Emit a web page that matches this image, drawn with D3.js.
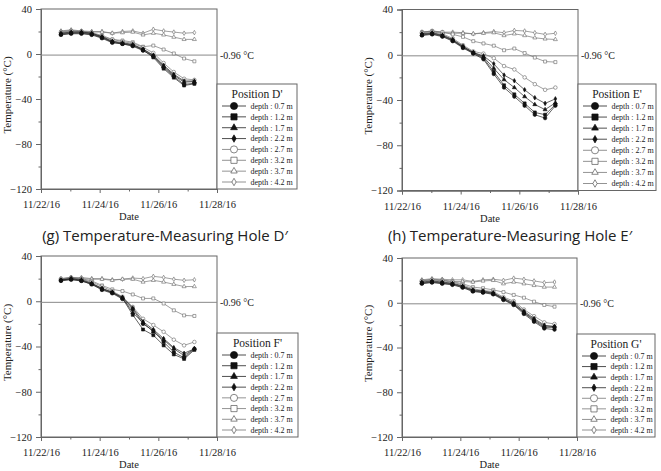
<!DOCTYPE html>
<html>
<head>
<meta charset="utf-8">
<script src="https://cdn.jsdelivr.net/npm/d3@7"></script>
<style>
	body { margin: 0; background: #fff; }
	svg text { font-family: "Liberation Serif", "Times New Roman", serif; fill: #222; }
	svg .title { font-family: "Open Sans", sans-serif; }
</style>
</head>
<body>
<svg id="chart" width="661" height="471"></svg>
<script>

// Measurement times (8 h apart, roughly)
let times = ["2016-11-22 16:20", "2016-11-23 00:40", "2016-11-23 09:05", "2016-11-23 17:30",
	"2016-11-24 01:55", "2016-11-24 10:20", "2016-11-24 18:40", "2016-11-25 03:05",
	"2016-11-25 11:30", "2016-11-25 19:55", "2016-11-26 04:20", "2016-11-26 12:40",
	"2016-11-26 21:05", "2016-11-27 05:30"];

let depths = ["0.7 m", "1.2 m", "1.7 m", "2.2 m", "2.7 m", "3.2 m", "3.7 m", "4.2 m"];

let xTickLabels = ["11/22/16", "11/24/16", "11/26/16", "11/28/16"];
let xMinorLabels = ["11/23/16", "11/25/16", "11/27/16"];
let yTicks = [40, 0, -40, -80, -120];
let yMinorTicks = [20, -20, -60, -100];
let freezingPoint = -0.96;

// temperatures, one row per depth (0.7 m ... 4.2 m)
let holeD = [
	[17, 18, 18, 17, 14, 10, 9, 7, 3, -2, -12, -20, -27, -26],
	[17.5, 18.5, 18.5, 17.5, 14.5, 10.5, 9, 7.5, 3.5, -3, -13, -21, -28, -26.5],
	[18, 19, 19, 18, 15, 11, 9.5, 8, 4, -1.5, -11, -19, -25, -24.5],
	[18.5, 19.5, 19.5, 18.5, 15.5, 11.5, 10, 8.5, 4.5, -1, -10, -18, -24, -24],
	[19.5, 20.5, 20, 19, 16.5, 13, 11, 9.5, 6, 1, -8, -16, -22, -23],
	[19, 20, 20, 18.5, 15.5, 13, 12, 10.5, 6.5, 7.5, 4, 0.5, -4, -6.5],
	[20, 21, 20, 19.5, 19.5, 18.5, 19, 19.5, 17, 18.5, 17, 15, 13, 13],
	[20.5, 21.5, 20.5, 20, 20, 18.5, 20, 20.5, 18.5, 22, 20.5, 19.5, 18.5, 19]
];

let holeE = [
	[17, 18, 16, 12, 6, 1, -4, -17, -29, -37, -45, -53, -56, -45],
	[17.5, 18.5, 16.5, 12.5, 6.5, 1.5, -3, -15, -27, -35, -43, -51, -53, -44],
	[18, 19, 17, 13, 7, 2, -2, -12, -22, -29, -37, -44, -48.5, -42.5],
	[18.5, 19.5, 17.5, 13.5, 7.5, 2, -1, -8, -18, -23, -31, -38, -43, -39],
	[19.5, 20.5, 18.5, 14.5, 8.5, 3, 1, -3, -10, -13, -20, -26, -31, -29],
	[20, 21, 20, 18, 15.8, 12, 10, 8, 4, 5.5, 1.5, -2.5, -6, -6.5],
	[20, 20.5, 19.5, 19, 19, 18.5, 19, 19.5, 17, 18.5, 17, 15, 14, 13.5],
	[20, 21, 20, 20, 19.5, 18.5, 19.5, 20.5, 19.5, 21.5, 21, 19.5, 18, 19]
];

let holeF = [
	[18, 19, 18, 15, 10, 7, 2, -7, -20, -26, -36, -45, -50, -42],
	[18.5, 19.5, 18, 15, 10.5, 7.5, 2.5, -12, -25, -30, -39, -47, -51, -43],
	[19, 20, 18.5, 15.5, 11, 8, 3, -10, -19, -27, -34, -42, -48, -42],
	[18.5, 20, 19, 16, 11.5, 8, 3.5, -6, -18, -25, -33, -41, -46, -42],
	[20, 21, 19.5, 17, 13, 9, 4, -5, -15.5, -21, -27, -34, -39, -36],
	[19, 20, 20, 18, 14, 10.5, 9, 6, 2.5, 2.5, -2, -8, -12.5, -13],
	[20, 21, 20, 19.5, 19.5, 18.5, 19.5, 19.5, 17, 18.5, 17, 15, 13, 13],
	[19.5, 21, 21, 20, 20, 19, 19.5, 20.5, 20, 22, 21, 19.5, 18.5, 19]
];

let holeG = [
	[17, 18, 17, 16, 13.5, 10, 9, 7.5, 2.5, -2, -10, -17, -23, -24],
	[17.5, 18.5, 17.5, 16.5, 14, 10.5, 9.5, 8, 3, -1.5, -9, -16, -22, -22],
	[18, 19, 18, 17, 14.5, 11, 10, 8.5, 3.5, -1, -8.5, -15, -21, -21],
	[18.5, 19.5, 18.5, 17.5, 15, 11.5, 10.5, 9, 4, 0, -7.5, -14, -20, -21.5],
	[19.5, 20.5, 19.5, 18.5, 16, 12.5, 11, 10, 5, 1.5, -6, -12, -17.5, -19],
	[19.5, 20.5, 20, 19, 17, 14, 13, 11.5, 9.5, 7, 4.5, 1, -2, -3.5],
	[20, 21, 20.5, 19, 19, 18.5, 19.5, 20, 17, 18.5, 17, 15.5, 14, 14],
	[20.5, 21.5, 21, 20.5, 20.5, 19, 20.5, 21, 20, 22, 21, 19.5, 18, 18.5]
];

// marker style per depth
let styles = [
	{ sym: d3.symbolCircle, filled: true, s: 10, ls: 40 },
	{ sym: d3.symbolSquare, filled: true, s: 9, ls: 38 },
	{ sym: d3.symbolTriangle, filled: true, s: 7, ls: 20 },
	{ sym: d3.symbolDiamond, filled: true, s: 6, ls: 16 },
	{ sym: d3.symbolCircle, filled: false, s: 10, ls: 40 },
	{ sym: d3.symbolSquare, filled: false, s: 9, ls: 38 },
	{ sym: d3.symbolTriangle, filled: false, s: 7, ls: 18 },
	{ sym: d3.symbolDiamond, filled: false, s: 6, ls: 16 }
];

let panels = [
	{ data: holeD, pos: "D'", title: "(g) Temperature-Measuring Hole D\u2032", titleX: 165,
		left: 41, right: 217, top: 9, bottom: 189, legRight: 297, legTop: 84 },
	{ data: holeE, pos: "E'", title: "(h) Temperature-Measuring Hole E\u2032", titleX: 510,
		left: 402, right: 578, top: 9.5, bottom: 190.5, legRight: 656, legTop: 84 },
	{ data: holeF, pos: "F'", title: null,
		left: 41, right: 217, top: 256, bottom: 437, legRight: 298, legTop: 333 },
	{ data: holeG, pos: "G'", title: null,
		left: 402, right: 577, top: 258, bottom: 437, legRight: 655, legTop: 334 }
];

let svg = d3.select("#chart");
let parseTime = d3.timeParse("%Y-%m-%d %H:%M");
let parseTick = d3.timeParse("%m/%d/%y");
let dates = times.map(parseTime);

panels.forEach(p => {
	let g = svg.append("g");

	let x = d3.scaleTime()
		.domain([parseTick(xTickLabels[0]), parseTick(xTickLabels[xTickLabels.length - 1])])
		.range([p.left, p.right]);
	let y = d3.scaleLinear()
		.domain([-120, 40])
		.range([p.bottom, p.top]);

	// frame
	g.append("rect")
		.attr("x", p.left).attr("y", p.top)
		.attr("width", p.right - p.left).attr("height", p.bottom - p.top)
		.attr("fill", "none").attr("stroke", "#666").attr("stroke-width", 1);

	// axes
	g.append("g")
		.attr("transform", "translate(" + p.left + ",0)")
		.call(d3.axisLeft(y).tickValues(yTicks).tickSize(5).tickPadding(4));
	g.append("g")
		.attr("transform", "translate(" + p.left + ",0)")
		.call(d3.axisLeft(y).tickValues(yMinorTicks).tickSize(2.5).tickFormat(""));
	g.append("g")
		.attr("transform", "translate(0," + p.bottom + ")")
		.call(d3.axisBottom(x).tickValues(xTickLabels.map(parseTick)).tickSize(4).tickPadding(8)
			.tickFormat(d3.timeFormat("%m/%d/%y")));
	g.append("g")
		.attr("transform", "translate(0," + p.bottom + ")")
		.call(d3.axisBottom(x).tickValues(xMinorLabels.map(parseTick)).tickSize(2.5).tickFormat(""));

	g.selectAll(".domain").attr("stroke", "#666");
	g.selectAll(".tick line").attr("stroke", "#666");
	g.selectAll(".tick text")
		.attr("fill", "#222")
		.attr("font-family", "'Liberation Serif', serif")
		.style("font-size", "10.5px");

	// axis titles
	g.append("text")
		.attr("transform", "translate(" + (p.left - 30) + "," + ((p.top + p.bottom) / 2 - 4) + ") rotate(-90)")
		.attr("text-anchor", "middle")
		.style("font-size", "11px")
		.text("Temperature (\u00B0C)");
	g.append("text")
		.attr("x", (p.left + p.right) / 2 - 0)
		.attr("y", p.bottom + 31)
		.attr("text-anchor", "middle")
		.style("font-size", "10.5px")
		.text("Date");

	// freezing line
	g.append("line")
		.attr("x1", p.left).attr("x2", p.right)
		.attr("y1", y(freezingPoint)).attr("y2", y(freezingPoint))
		.attr("stroke", "#888").attr("stroke-width", 1);
	g.append("text")
		.attr("x", p.right + 3)
		.attr("y", y(freezingPoint) + 3.5)
		.style("font-size", "10px")
		.text(freezingPoint.toFixed(2) + " \u00B0C");

	// series, deepest first so shallow ones sit on top
	let line = d3.line()
		.x((d, i) => x(dates[i]))
		.y(d => y(d));

	for (let k = depths.length - 1; k >= 0; k--) {
		let st = styles[k];
		let col = st.filled ? "#222" : "#777";
		g.append("path")
			.datum(p.data[k])
			.attr("d", line)
			.attr("fill", "none")
			.attr("stroke", col)
			.attr("stroke-width", 0.7);
		g.selectAll(null)
			.data(p.data[k])
			.enter()
			.append("path")
			.attr("transform", (d, i) => "translate(" + x(dates[i]) + "," + y(d) + ")")
			.attr("d", d3.symbol().type(st.sym).size(st.s))
			.attr("fill", st.filled ? "#111" : "#fff")
			.attr("stroke", st.filled ? "#111" : "#666")
			.attr("stroke-width", 0.6);
	}

	// legend
	let lg = g.append("g");
	let lx = p.right;
	lg.append("rect")
		.attr("x", lx).attr("y", p.legTop)
		.attr("width", p.legRight - lx).attr("height", p.bottom - p.legTop)
		.attr("fill", "#fff").attr("stroke", "#666").attr("stroke-width", 1);
	lg.append("text")
		.attr("x", (lx + p.legRight) / 2)
		.attr("y", p.legTop + 14)
		.attr("text-anchor", "middle")
		.style("font-size", "11.5px")
		.text("Position " + p.pos);

	let rowH = (p.bottom - p.legTop - 29) / 7;
	depths.forEach((dep, k) => {
		let st = styles[k];
		let cy = p.legTop + 22 + k * rowH;
		let col = st.filled ? "#222" : "#777";
		lg.append("line")
			.attr("x1", lx + 5).attr("x2", lx + 29)
			.attr("y1", cy).attr("y2", cy)
			.attr("stroke", col).attr("stroke-width", 0.8);
		lg.append("path")
			.attr("transform", "translate(" + (lx + 17) + "," + cy + ")")
			.attr("d", d3.symbol().type(st.sym).size(st.ls))
			.attr("fill", st.filled ? "#111" : "#fff")
			.attr("stroke", st.filled ? "#111" : "#555")
			.attr("stroke-width", 0.7);
		lg.append("text")
			.attr("x", lx + 33.5)
			.attr("y", cy + 2.8)
			.style("font-size", "8px")
			.text("depth : " + dep);
	});

	if (p.title) {
		g.append("text")
			.attr("class", "title")
			.attr("x", p.titleX)
			.attr("y", 241)
			.attr("text-anchor", "middle")
			.style("font-size", "15px")
			.text(p.title);
	}
});

</script>
</body>
</html>
